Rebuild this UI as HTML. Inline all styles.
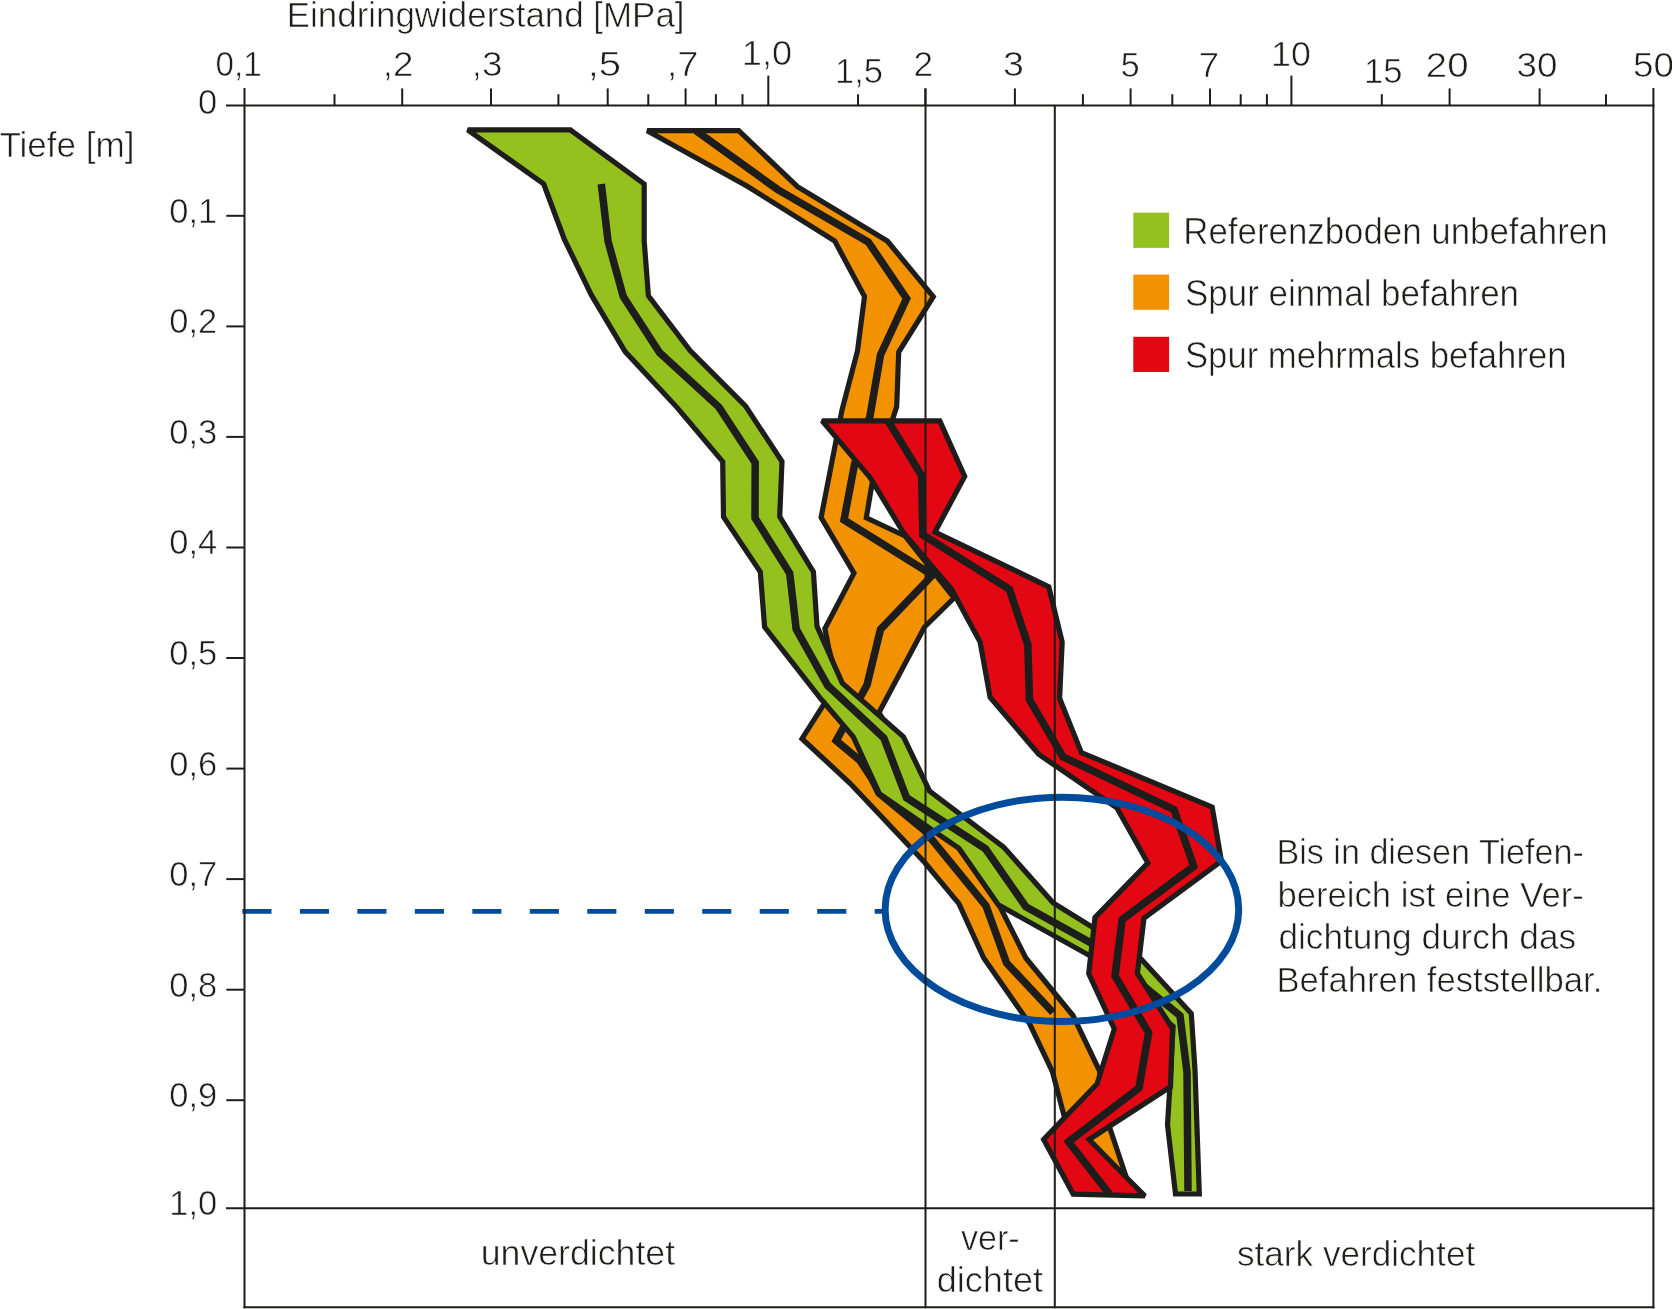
<!DOCTYPE html>
<html><head><meta charset="utf-8"><title>Eindringwiderstand</title>
<style>html,body{margin:0;padding:0;background:#fff;}svg{display:block;font-family:"Liberation Sans",sans-serif;}</style>
</head><body>
<svg width="1672" height="1309" viewBox="0 0 1672 1309">
<rect width="1672" height="1309" fill="#fff"/>
<polygon points="647.2,130.7 747.7,186.6 834.8,241.1 864.5,296.6 857.5,351.0 842.0,410.0 821.1,517.5 854.0,573.1 824.9,628.7 828.9,648.9 838.0,682.0 802.0,738.7 850.0,783.3 924.5,862.3 958.9,903.7 983.7,958.0 1029.5,1023.6 1052.4,1071.7 1063.9,1115.2 1080.0,1160.0 1126.6,1178.2 1109.5,1127.0 1099.4,1070.5 1073.0,1015.5 1025.8,958.0 1000.2,907.0 959.0,848.0 879.0,712.5 924.5,627.0 954.0,598.0 905.0,536.0 866.3,517.8 872.0,484.0 896.7,406.6 898.7,352.0 933.3,296.6 887.4,241.1 797.5,186.6 738.7,130.7" fill="#f39200" stroke="#1d1d1b" stroke-width="5.2" stroke-linejoin="miter" stroke-miterlimit="2"/>
<polyline points="696.0,130.7 777.4,189.4 868.3,242.0 906.6,298.5 880.5,354.9 870.0,416.0 854.6,464.0 844.0,520.0 932.5,575.0 880.5,629.4 867.0,685.0 836.2,740.6 859.5,760.0 872.0,779.0 879.0,793.0 924.0,830.0 986.0,906.0 1006.6,963.0 1053.0,1012.5" fill="none" stroke="#1d1d1b" stroke-width="7.5" stroke-linejoin="miter" stroke-miterlimit="4"/>
<polygon points="467.7,129.8 543.7,184.0 564.4,239.4 591.3,294.9 625.1,351.6 676.7,407.1 722.7,461.6 723.5,517.0 760.3,571.8 764.6,627.0 821.0,699.0 853.3,736.9 879.6,794.0 959.0,848.4 998.3,904.8 1089.1,955.3 1173.1,1026.3 1169.9,1086.2 1167.5,1124.8 1175.5,1194.0 1199.3,1194.0 1195.0,1070.2 1191.3,1013.5 1137.4,955.0 1053.3,903.0 1003.7,847.1 929.5,791.0 903.5,736.9 842.3,683.1 817.0,626.3 813.4,571.8 779.7,516.5 782.0,461.6 745.6,406.1 690.1,350.6 648.4,295.7 644.2,241.1 644.2,184.0 570.3,129.8" fill="#95c11f" stroke="#1d1d1b" stroke-width="5.2" stroke-linejoin="miter" stroke-miterlimit="2"/>
<polyline points="601.3,184.0 608.0,241.0 623.2,296.5 659.5,352.5 718.9,407.1 755.2,462.6 755.0,518.0 789.7,573.2 796.2,629.2 827.7,685.6 883.9,738.1 906.5,797.7 985.5,848.8 1025.8,906.7 1090.0,942.4 1180.0,1015.6 1187.0,1072.3 1188.0,1191.0" fill="none" stroke="#1d1d1b" stroke-width="7.5" stroke-linejoin="miter" stroke-miterlimit="4"/>
<polygon points="822.1,420.9 870.0,477.4 903.8,533.3 951.8,589.5 980.1,642.1 990.1,697.3 1038.7,754.3 1116.8,807.8 1147.8,863.0 1095.0,917.5 1088.7,973.5 1114.3,1029.0 1097.0,1084.0 1043.6,1139.5 1073.2,1194.1 1144.8,1195.8 1144.8,1195.8 1126.0,1177.0 1089.1,1139.5 1170.5,1086.8 1172.5,1028.5 1137.4,973.4 1144.0,918.2 1221.4,861.1 1212.2,807.1 1081.4,752.6 1059.6,698.2 1062.2,642.1 1048.8,586.8 935.0,532.0 964.7,476.4 939.8,420.9" fill="#e30613" stroke="#1d1d1b" stroke-width="5.2" stroke-linejoin="miter" stroke-miterlimit="2"/>
<polyline points="888.1,420.9 921.6,475.5 922.9,535.0 1009.4,589.3 1027.8,644.6 1029.5,699.8 1063.0,756.8 1174.1,809.7 1193.8,866.3 1122.2,919.5 1115.0,976.0 1148.6,1032.6 1139.0,1088.0 1068.6,1141.8 1109.5,1194.1" fill="none" stroke="#1d1d1b" stroke-width="7.5" stroke-linejoin="miter" stroke-miterlimit="4"/>
<line x1="242.4" y1="911.4" x2="883" y2="911.4" stroke="#004b9b" stroke-width="4.6" stroke-dasharray="29.1 28.38"/>
<ellipse cx="1061.9" cy="909.4" rx="176.8" ry="112.2" fill="none" stroke="#004b9b" stroke-width="7"/>
<g stroke="#1d1d1b" stroke-width="2" fill="none"><line x1="226" y1="105.6" x2="1654.4" y2="105.6"/><line x1="244.5" y1="87.9" x2="244.5" y2="1308.3"/><line x1="1653.4" y1="87.9" x2="1653.4" y2="1308.3"/><line x1="226" y1="1208.2" x2="1654.4" y2="1208.2"/><line x1="243.5" y1="1307.3" x2="1654.4" y2="1307.3"/><line x1="925.5" y1="88.4" x2="925.5" y2="1308.3"/><line x1="1054.8" y1="105.6" x2="1054.8" y2="1308.3"/><line x1="402.2" y1="88.4" x2="402.2" y2="105.6"/><line x1="491" y1="88.4" x2="491" y2="105.6"/><line x1="607.7" y1="88.4" x2="607.7" y2="105.6"/><line x1="685.6" y1="88.4" x2="685.6" y2="105.6"/><line x1="925.4" y1="88.4" x2="925.4" y2="105.6"/><line x1="1014.9" y1="88.4" x2="1014.9" y2="105.6"/><line x1="1130.6" y1="88.4" x2="1130.6" y2="105.6"/><line x1="1210" y1="88.4" x2="1210" y2="105.6"/><line x1="1449.6" y1="88.4" x2="1449.6" y2="105.6"/><line x1="1539.6" y1="88.4" x2="1539.6" y2="105.6"/><line x1="334.5" y1="94.2" x2="334.5" y2="105.6"/><line x1="558.4" y1="94.2" x2="558.4" y2="105.6"/><line x1="648.3" y1="94.2" x2="648.3" y2="105.6"/><line x1="715.9" y1="94.2" x2="715.9" y2="105.6"/><line x1="742.5" y1="94.2" x2="742.5" y2="105.6"/><line x1="858" y1="94.2" x2="858" y2="105.6"/><line x1="1082.9" y1="94.2" x2="1082.9" y2="105.6"/><line x1="1172.3" y1="94.2" x2="1172.3" y2="105.6"/><line x1="1240.7" y1="94.2" x2="1240.7" y2="105.6"/><line x1="1266.9" y1="94.2" x2="1266.9" y2="105.6"/><line x1="1381.8" y1="94.2" x2="1381.8" y2="105.6"/><line x1="1606" y1="94.2" x2="1606" y2="105.6"/><line x1="768.3" y1="75.6" x2="768.3" y2="105.6"/><line x1="1291.4" y1="75.6" x2="1291.4" y2="105.6"/><line x1="226.3" y1="215.8" x2="244.5" y2="215.8"/><line x1="226.3" y1="326.4" x2="244.5" y2="326.4"/><line x1="226.3" y1="436.9" x2="244.5" y2="436.9"/><line x1="226.3" y1="547.5" x2="244.5" y2="547.5"/><line x1="226.3" y1="658.0" x2="244.5" y2="658.0"/><line x1="226.3" y1="768.6" x2="244.5" y2="768.6"/><line x1="226.3" y1="879.1" x2="244.5" y2="879.1"/><line x1="226.3" y1="989.7" x2="244.5" y2="989.7"/><line x1="226.3" y1="1100.2" x2="244.5" y2="1100.2"/></g>
<g fill="#1d1d1b" stroke="#fff" stroke-width="0.6" style="will-change:transform" font-family="Liberation Sans, sans-serif"><text x="286.8" y="27" font-size="34.5" textLength="397.7" lengthAdjust="spacingAndGlyphs" text-anchor="start">Eindringwiderstand [MPa]</text>
<text x="-0.6" y="157" font-size="34.5" textLength="135.1" lengthAdjust="spacingAndGlyphs" text-anchor="start">Tiefe [m]</text>
<text x="1183.3" y="244.4" font-size="36" textLength="424.3" lengthAdjust="spacingAndGlyphs" text-anchor="start">Referenzboden unbefahren</text>
<text x="1185.0" y="306" font-size="36" textLength="334.0" lengthAdjust="spacingAndGlyphs" text-anchor="start">Spur einmal befahren</text>
<text x="1185.0" y="368.2" font-size="36" textLength="381.5" lengthAdjust="spacingAndGlyphs" text-anchor="start">Spur mehrmals befahren</text>
<text x="1276.4" y="864.1" font-size="34.5" textLength="307.5" lengthAdjust="spacingAndGlyphs" text-anchor="start">Bis in diesen Tiefen-</text>
<text x="1277.4" y="906.8" font-size="34.5" textLength="306.5" lengthAdjust="spacingAndGlyphs" text-anchor="start">bereich ist eine Ver-</text>
<text x="1278.4" y="949.2" font-size="34.5" textLength="297.8" lengthAdjust="spacingAndGlyphs" text-anchor="start">dichtung durch das</text>
<text x="1276.4" y="991.6" font-size="34.5" textLength="325.9" lengthAdjust="spacingAndGlyphs" text-anchor="start">Befahren feststellbar.</text>
<text x="480.7" y="1264.9" font-size="34.5" textLength="194.4" lengthAdjust="spacingAndGlyphs" text-anchor="start">unverdichtet</text>
<text x="960.9" y="1250.4" font-size="34.5" textLength="58.8" lengthAdjust="spacingAndGlyphs" text-anchor="start">ver-</text>
<text x="936.8" y="1292" font-size="34.5" textLength="106.2" lengthAdjust="spacingAndGlyphs" text-anchor="start">dichtet</text>
<text x="1237.0" y="1266" font-size="34.5" textLength="238.2" lengthAdjust="spacingAndGlyphs" text-anchor="start">stark verdichtet</text>
<text x="215.6" y="76.4" font-size="34.5" textLength="46.3" lengthAdjust="spacingAndGlyphs" text-anchor="start">0,1</text>
<text x="382.8" y="76.4" font-size="34.5" textLength="30.7" lengthAdjust="spacingAndGlyphs" text-anchor="start">,2</text>
<text x="471.8" y="76.4" font-size="34.5" textLength="30.7" lengthAdjust="spacingAndGlyphs" text-anchor="start">,3</text>
<text x="587.7" y="76.4" font-size="34.5" textLength="33.4" lengthAdjust="spacingAndGlyphs" text-anchor="start">,5</text>
<text x="666.7" y="76.4" font-size="34.5" textLength="31.9" lengthAdjust="spacingAndGlyphs" text-anchor="start">,7</text>
<text x="741.8" y="64.9" font-size="34.5" textLength="50.2" lengthAdjust="spacingAndGlyphs" text-anchor="start">1,0</text>
<text x="835.0" y="83.0" font-size="34.5" textLength="48.0" lengthAdjust="spacingAndGlyphs" text-anchor="start">1,5</text>
<text x="913.4" y="76.4" font-size="34.5" textLength="19.6" lengthAdjust="spacingAndGlyphs" text-anchor="start">2</text>
<text x="1003.1" y="76.4" font-size="34.5" textLength="20.9" lengthAdjust="spacingAndGlyphs" text-anchor="start">3</text>
<text x="1120.8" y="76.9" font-size="34.5" textLength="18.9" lengthAdjust="spacingAndGlyphs" text-anchor="start">5</text>
<text x="1198.5" y="76.9" font-size="34.5" textLength="20.6" lengthAdjust="spacingAndGlyphs" text-anchor="start">7</text>
<text x="1271.0" y="66.0" font-size="34.5" textLength="39.8" lengthAdjust="spacingAndGlyphs" text-anchor="start">10</text>
<text x="1363.9" y="82.6" font-size="34.5" textLength="38.5" lengthAdjust="spacingAndGlyphs" text-anchor="start">15</text>
<text x="1425.8" y="76.9" font-size="34.5" textLength="42.7" lengthAdjust="spacingAndGlyphs" text-anchor="start">20</text>
<text x="1516.5" y="76.9" font-size="34.5" textLength="40.9" lengthAdjust="spacingAndGlyphs" text-anchor="start">30</text>
<text x="1633.0" y="76.9" font-size="34.5" textLength="41.0" lengthAdjust="spacingAndGlyphs" text-anchor="start">50</text>
<text x="217.2" y="113.5" font-size="34.5" text-anchor="end">0</text>
<text x="217.3" y="222.8" font-size="34.5" text-anchor="end">0,1</text>
<text x="217.3" y="333.3" font-size="34.5" text-anchor="end">0,2</text>
<text x="217.3" y="443.8" font-size="34.5" text-anchor="end">0,3</text>
<text x="217.3" y="554.4" font-size="34.5" text-anchor="end">0,4</text>
<text x="217.3" y="664.9" font-size="34.5" text-anchor="end">0,5</text>
<text x="217.3" y="775.5" font-size="34.5" text-anchor="end">0,6</text>
<text x="217.3" y="886.0" font-size="34.5" text-anchor="end">0,7</text>
<text x="217.3" y="996.6" font-size="34.5" text-anchor="end">0,8</text>
<text x="217.3" y="1107.2" font-size="34.5" text-anchor="end">0,9</text>
<text x="217.3" y="1215.2" font-size="34.5" text-anchor="end">1,0</text>
</g>
<rect x="1133.3" y="212.7" width="35.8" height="35.2" fill="#95c11f"/>
<rect x="1133.3" y="274.6" width="35.8" height="35.2" fill="#f39200"/>
<rect x="1133.3" y="336.8" width="35.8" height="35.2" fill="#e30613"/>
</svg>
</body></html>
